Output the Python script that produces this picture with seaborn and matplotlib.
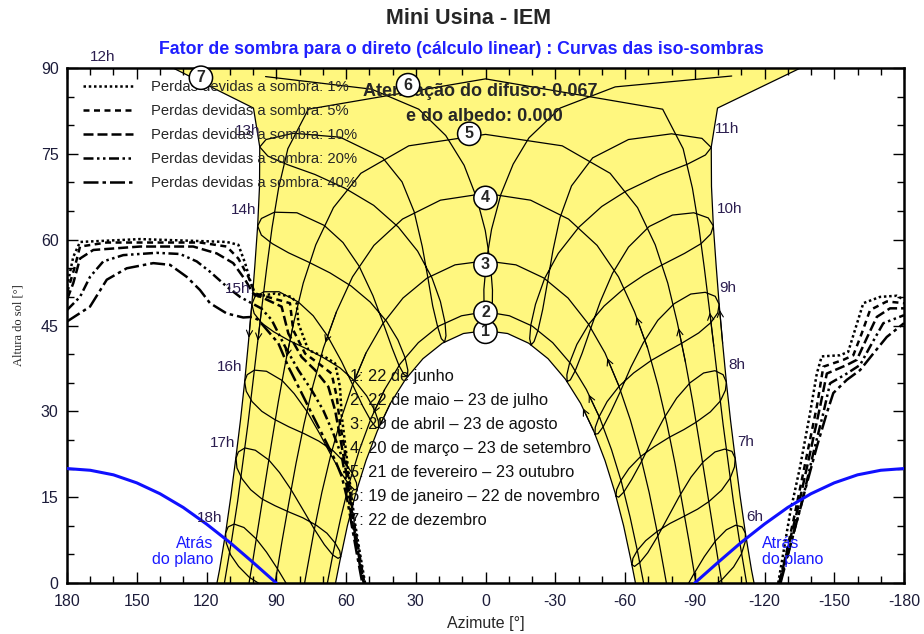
import numpy as np
import pandas as pd
import seaborn as sns
import matplotlib.pyplot as plt
from matplotlib.lines import Line2D
from matplotlib.ticker import MultipleLocator

# %% Data (azimuth [deg], positive = west; sun height [deg])
# Sun paths for the 7 dates, morning -> evening
d1_az = [-64.5, -62.6, -59.4, -55.7, -51.4, -46.5, -40.9, -34.4, -26.9, -18.6, -9.5, 0.0, 9.5, 18.6, 26.9, 34.4, 40.9, 46.5, 51.4, 55.7, 59.4, 62.6, 64.5]
d1_alt = [0.0, 3.9, 10.0, 15.8, 21.4, 26.6, 31.4, 35.6, 39.2, 41.9, 43.6, 44.1, 43.6, 41.9, 39.2, 35.6, 31.4, 26.6, 21.4, 15.8, 10.0, 3.9, 0.0]
d2_az = [-68.0, -65.5, -62.2, -58.5, -54.2, -49.2, -43.4, -36.7, -28.9, -20.1, -10.3, 0.0, 10.3, 20.1, 28.9, 36.7, 43.4, 49.2, 54.2, 58.5, 62.2, 65.5, 68.0]
d2_alt = [0.0, 5.3, 11.5, 17.6, 23.3, 28.8, 33.8, 38.3, 42.0, 44.9, 46.7, 47.4, 46.7, 44.9, 42.0, 38.3, 33.8, 28.8, 23.3, 17.6, 11.5, 5.3, 0.0]
d3_az = [-77.8, -76.7, -73.7, -70.4, -66.6, -62.3, -57.3, -51.4, -44.2, -35.5, -25.1, -13.1, 0.0, 13.1, 25.1, 35.5, 44.2, 51.4, 57.3, 62.3, 66.6, 70.4, 73.7, 76.7, 77.8]
d3_alt = [0.0, 2.5, 9.2, 15.8, 22.3, 28.5, 34.5, 40.2, 45.3, 49.8, 53.3, 55.6, 56.3, 55.6, 53.3, 49.8, 45.3, 40.2, 34.5, 28.5, 22.3, 15.8, 9.2, 2.5, 0.0]
d4_az = [-90.5, -87.6, -84.6, -81.5, -78.1, -74.2, -69.7, -64.1, -57.2, -48.0, -35.7, -19.4, 0.0, 19.4, 35.7, 48.0, 57.2, 64.1, 69.7, 74.2, 78.1, 81.5, 84.6, 87.6, 90.5]
d4_alt = [0.0, 7.1, 14.0, 20.9, 27.7, 34.5, 41.1, 47.4, 53.5, 59.0, 63.6, 66.9, 68.1, 66.9, 63.6, 59.0, 53.5, 47.4, 41.1, 34.5, 27.7, 20.9, 14.0, 7.1, 0.0]
d5_az = [-101.7, -100.0, -97.3, -94.6, -91.9, -89.1, -86.0, -82.5, -78.4, -73.0, -65.4, -53.6, -33.0, 0.0, 33.0, 53.6, 65.4, 73.0, 78.4, 82.5, 86.0, 89.1, 91.9, 94.6, 97.3, 100.0, 101.7]
d5_alt = [0.0, 4.1, 11.0, 17.9, 24.8, 31.7, 38.6, 45.5, 52.4, 59.1, 65.6, 71.6, 76.4, 78.4, 76.4, 71.6, 65.6, 59.1, 52.4, 45.5, 38.6, 31.7, 24.8, 17.9, 11.0, 4.1, 0.0]
d6_az = [-112.3, -111.8, -109.1, -106.6, -104.4, -102.2, -100.2, -98.2, -96.2, -94.1, -91.8, -89.0, -85.0, -76.2, 0.0, 76.2, 85.0, 89.0, 91.8, 94.1, 96.2, 98.2, 100.2, 102.2, 104.4, 106.6, 109.1, 111.8, 112.3]
d6_alt = [0.0, 1.2, 7.7, 14.3, 21.0, 27.7, 34.5, 41.4, 48.2, 55.1, 62.1, 69.0, 75.9, 82.8, 88.1, 82.8, 75.9, 69.0, 62.1, 55.1, 48.2, 41.4, 34.5, 27.7, 21.0, 14.3, 7.7, 1.2, 0.0]
d7_az = [-115.5, -114.4, -111.8, -109.5, -107.4, -105.4, -103.6, -102.0, -100.5, -99.2, -98.0, -97.2, -97.1, -99.8, -135.5, 134.4, 99.8, 97.1, 97.2, 98.0, 99.2, 100.5, 102.0, 103.6, 105.4, 107.4, 109.5, 111.8, 114.4, 115.5]
d7_alt = [0.0, 2.3, 8.7, 15.2, 21.8, 28.4, 35.1, 41.9, 48.7, 55.5, 62.4, 69.3, 76.2, 83.0, 90.0, 90.0, 83.0, 76.2, 69.3, 62.4, 55.5, 48.7, 41.9, 35.1, 28.4, 21.8, 15.2, 8.7, 2.3, 0.0]

# Hour loops (legal time), one point about every two weeks from 22 June
hours = [6, 7, 8, 9, 10, 11, 12, 13, 14, 15, 16, 17, 18]
loop_az = [
    [-68.4, -69.5, -71.9, -75.5, -79.6, -84.4, -89.2, -94.1, -99.0, -103.6, -107.6, -110.4, -111.8, -111.7, -110.1, -106.7, -101.5, -96.8, -91.4, -85.1, -79.7, -74.7, -71.0, -69.0],
    [-63.0, -64.1, -66.4, -69.8, -73.8, -78.5, -83.3, -88.4, -93.7, -98.7, -102.9, -106.0, -107.4, -107.1, -105.2, -101.5, -96.0, -91.2, -85.6, -79.3, -73.8, -68.9, -65.3, -63.4],
    [-56.1, -57.3, -59.5, -62.9, -66.8, -71.6, -76.6, -82.2, -88.0, -93.8, -98.7, -102.2, -103.6, -103.2, -101.0, -96.7, -90.6, -85.3, -79.2, -72.5, -66.7, -61.7, -58.2, -56.4],
    [-47.1, -48.4, -50.6, -53.9, -57.8, -62.5, -67.9, -74.1, -81.1, -88.3, -94.5, -98.8, -100.5, -99.9, -96.9, -91.7, -84.4, -78.2, -71.3, -63.7, -57.5, -52.3, -48.9, -47.2],
    [-35.1, -36.5, -38.6, -41.6, -45.0, -49.4, -54.6, -61.5, -70.4, -80.4, -89.6, -95.8, -98.0, -96.9, -92.7, -85.6, -76.0, -68.1, -59.7, -51.0, -44.4, -39.3, -36.2, -35.0],
    [-19.6, -20.9, -22.6, -24.6, -26.6, -29.0, -32.0, -37.0, -46.1, -61.5, -80.0, -93.1, -97.1, -94.6, -86.9, -74.9, -60.5, -50.0, -40.2, -31.3, -25.4, -21.5, -19.5, -19.0],
    [-1.1, -2.1, -2.9, -3.0, -2.1, 0.1, 3.8, 9.2, 17.1, 28.7, 49.0, 94.6, -105.9, -55.8, -32.1, -18.7, -11.9, -6.6, -2.6, -0.4, 0.7, 0.6, 0.0],
    [17.6, 17.0, 17.4, 19.4, 23.0, 29.2, 37.5, 48.1, 60.5, 73.4, 85.1, 93.6, 97.1, 94.4, 82.6, 62.5, 44.2, 35.9, 30.7, 27.2, 24.8, 22.7, 20.6, 19.0],
    [33.6, 33.4, 34.6, 37.7, 42.5, 49.6, 57.8, 66.9, 76.2, 84.7, 91.7, 96.4, 98.0, 96.4, 90.8, 81.1, 69.4, 61.3, 54.4, 48.4, 44.0, 40.2, 37.2, 35.0],
    [45.9, 46.1, 47.7, 51.1, 56.0, 62.6, 69.8, 77.3, 84.6, 91.1, 96.2, 99.5, 100.5, 99.2, 95.3, 88.8, 80.5, 74.1, 68.0, 61.9, 57.2, 52.9, 49.5, 47.2],
    [55.2, 55.5, 57.3, 60.9, 65.5, 71.7, 78.0, 84.6, 90.8, 96.2, 100.4, 102.9, 103.6, 102.5, 99.4, 94.2, 87.5, 82.3, 76.8, 71.2, 66.5, 62.2, 58.7, 56.4],
    [62.3, 62.7, 64.7, 68.2, 72.8, 78.6, 84.5, 90.5, 96.2, 101.0, 104.7, 106.9, 107.3, 106.3, 103.5, 99.0, 93.2, 88.6, 83.6, 78.2, 73.6, 69.3, 65.7, 63.4],
    [67.9, 68.4, 70.5, 74.1, 78.7, 84.5, 90.3, 96.2, 101.6, 106.2, 109.6, 111.5, 111.8, 110.7, 108.1, 103.9, 98.6, 94.2, 89.5, 84.2, 79.5, 75.0, 71.3, 69.0],
]
loop_alt = [
    [-9.4, -9.8, -9.4, -7.9, -5.5, -2.2, 1.3, 4.6, 7.4, 9.3, 10.1, 9.8, 8.7, 7.2, 5.1, 2.8, 0.5, -0.9, -2.1, -3.3, -4.4, -5.8, -7.2, -8.4],
    [3.2, 2.9, 3.6, 5.3, 8.0, 11.5, 15.1, 18.5, 21.2, 22.9, 23.4, 23.0, 21.8, 20.3, 18.3, 16.2, 14.2, 12.9, 11.7, 10.4, 9.0, 7.4, 5.7, 4.3],
    [15.2, 15.0, 15.9, 18.1, 21.0, 24.9, 28.7, 32.3, 35.0, 36.7, 37.1, 36.4, 35.1, 33.7, 31.8, 29.9, 28.1, 26.8, 25.5, 23.8, 22.1, 20.0, 17.9, 16.3],
    [26.0, 26.1, 27.3, 29.9, 33.3, 37.7, 42.0, 45.9, 48.8, 50.5, 50.8, 50.1, 48.7, 47.2, 45.5, 43.7, 41.9, 40.5, 38.9, 36.7, 34.4, 31.7, 29.1, 27.2],
    [35.2, 35.5, 37.1, 40.2, 44.2, 49.2, 54.1, 58.7, 62.3, 64.3, 64.7, 63.8, 62.4, 61.0, 59.3, 57.6, 55.6, 53.8, 51.5, 48.4, 45.2, 41.7, 38.5, 36.4],
    [41.6, 42.2, 44.2, 47.8, 52.4, 58.1, 63.8, 69.4, 74.3, 77.5, 78.5, 77.7, 76.1, 74.8, 73.2, 71.3, 68.5, 65.8, 62.2, 57.6, 53.2, 48.7, 45.1, 42.7],
    [44.1, 45.0, 47.3, 51.2, 55.9, 61.6, 67.3, 73.0, 78.2, 82.8, 86.3, 88.5, 88.6, 86.7, 83.0, 77.8, 73.2, 67.9, 61.8, 56.3, 51.3, 47.4, 45.0],
    [42.1, 43.2, 45.5, 49.2, 53.3, 58.0, 62.2, 66.0, 69.0, 71.4, 73.1, 74.6, 76.2, 77.5, 78.6, 77.9, 74.3, 70.1, 64.9, 58.8, 53.4, 48.4, 44.8, 42.7],
    [36.1, 37.2, 39.4, 42.5, 45.7, 49.1, 51.9, 54.2, 56.1, 57.7, 59.3, 60.8, 62.4, 63.7, 64.8, 64.7, 62.5, 59.5, 55.4, 50.2, 45.4, 41.1, 38.0, 36.4],
    [27.2, 28.3, 30.2, 32.7, 35.2, 37.6, 39.4, 41.0, 42.4, 43.9, 45.4, 47.1, 48.7, 50.0, 50.9, 50.9, 49.1, 46.7, 43.2, 38.7, 34.7, 31.0, 28.5, 27.2],
    [16.4, 17.5, 19.2, 21.2, 23.1, 24.8, 26.1, 27.3, 28.6, 30.0, 31.7, 33.5, 35.2, 36.4, 37.2, 37.0, 35.4, 33.1, 30.0, 26.0, 22.4, 19.3, 17.2, 16.3],
    [4.6, 5.6, 7.0, 8.7, 10.1, 11.4, 12.4, 13.5, 14.7, 16.3, 18.2, 20.1, 21.8, 22.9, 23.6, 23.2, 21.5, 19.3, 16.3, 12.6, 9.4, 6.7, 4.9, 4.3],
    [-8.0, -7.0, -5.8, -4.4, -3.3, -2.3, -1.4, -0.4, 1.0, 2.9, 4.9, 7.0, 8.7, 9.8, 10.3, 9.7, 7.7, 5.4, 2.5, -1.1, -4.1, -6.5, -8.0, -8.4],
]
hour_lbl_az = [-115.9, -112.0, -108.2, -104.3, -105.2, -103.9, 164.5, 102.2, 103.9, 106.5, 109.9, 113.3, 118.5]
hour_lbl_alt = [11.5, 24.6, 38.1, 51.6, 65.4, 79.3, 91.9, 79.0, 65.2, 51.4, 37.7, 24.5, 11.4]

# Iso-shading curves (west part / east part)
losses = ["1%", "5%", "10%", "20%", "40%"]
iso_w_az = [
    [180.0, 177.3, 174.4, 148.6, 111.3, 106.3, 103.4, 101.3, 99.1, 90.5, 83.4, 81.2, 80.5, 76.2, 69.0, 64.7, 62.6, 61.8, 60.4, 59.0, 57.6, 56.1, 54.0, 51.8],
    [180.0, 176.6, 174.4, 162.9, 122.8, 111.3, 106.3, 102.0, 99.1, 92.0, 84.1, 82.7, 77.6, 71.9, 66.2, 64.0, 62.6, 60.8, 59.3, 57.9, 56.4, 54.3, 52.1],
    [180.0, 177.3, 174.4, 168.7, 148.6, 125.7, 115.6, 108.5, 103.4, 99.9, 94.0, 87.7, 84.8, 79.1, 73.3, 67.6, 64.7, 62.6, 61.0, 59.6, 58.2, 56.7, 54.6, 52.4],
    [180.0, 174.4, 170.1, 164.4, 155.8, 141.5, 131.4, 124.2, 118.5, 111.3, 105.6, 100.6, 96.5, 92.0, 86.2, 80.5, 74.8, 69.8, 65.5, 61.8, 60.2, 58.8, 57.0, 54.9, 52.6],
    [180.0, 170.1, 162.9, 154.3, 142.9, 135.7, 128.5, 122.8, 118.5, 111.3, 104.2, 100.5, 97.7, 89.1, 84.8, 79.1, 74.1, 69.0, 64.7, 61.8, 59.7, 57.5, 55.3, 53.0],
]
iso_w_alt = [
    [51.8, 57.0, 59.6, 60.1, 59.6, 59.1, 55.9, 53.0, 50.0, 50.6, 50.0, 48.9, 45.4, 40.7, 39.5, 38.4, 34.3, 29.1, 24.4, 19.7, 15.1, 10.4, 5.2, 0.0],
    [50.7, 55.3, 58.8, 59.5, 59.5, 58.8, 56.7, 53.5, 50.6, 49.8, 48.9, 44.2, 40.1, 38.4, 36.6, 32.6, 27.9, 23.8, 19.4, 14.9, 10.2, 5.1, 0.0],
    [49.5, 52.4, 56.7, 58.2, 58.8, 58.8, 57.6, 55.9, 53.0, 50.6, 49.5, 48.3, 43.6, 39.5, 37.2, 34.3, 30.2, 25.6, 22.0, 18.5, 14.6, 10.0, 5.0, 0.0],
    [47.7, 50.0, 53.5, 56.2, 57.3, 57.7, 57.5, 56.2, 54.4, 51.8, 50.0, 48.9, 48.0, 46.0, 41.3, 37.2, 33.7, 30.2, 26.2, 22.1, 18.3, 14.5, 10.0, 5.0, 0.0],
    [45.7, 48.3, 53.0, 55.0, 55.9, 55.6, 53.5, 51.2, 48.9, 47.1, 46.4, 46.5, 46.0, 41.9, 37.8, 33.2, 29.1, 25.0, 21.5, 18.6, 15.1, 10.0, 5.0, 0.0],
]
iso_e_az = [
    [-125.9, -131.0, -135.3, -139.6, -142.5, -144.6, -152.5, -156.0, -158.9, -162.5, -169.7, -176.9, -180.0],
    [-126.6, -133.1, -138.1, -142.5, -145.3, -153.9, -158.2, -161.8, -165.4, -172.6, -180.0],
    [-126.3, -134.5, -139.6, -143.9, -146.8, -155.4, -159.7, -164.0, -168.3, -174.0, -180.0],
    [-126.6, -136.0, -141.0, -145.3, -148.2, -155.4, -161.1, -165.4, -171.1, -180.0],
    [-126.9, -136.7, -142.5, -146.8, -149.6, -155.4, -161.1, -166.8, -172.6, -180.0],
]
iso_e_alt = [
    [0.0, 12.2, 20.3, 29.7, 36.6, 39.6, 39.8, 40.4, 44.2, 48.9, 50.0, 50.2, 49.5],
    [0.0, 12.2, 22.1, 30.8, 37.8, 39.0, 39.8, 43.6, 47.7, 49.2, 48.9],
    [0.0, 13.3, 22.7, 30.8, 36.6, 38.1, 39.0, 42.8, 46.5, 48.0, 48.0],
    [0.0, 13.9, 22.7, 29.7, 34.9, 36.6, 38.1, 41.3, 45.4, 46.8],
    [0.0, 15.1, 23.8, 29.7, 33.2, 35.5, 37.2, 40.1, 43.0, 45.4],
]
iso_dashes = [(1, 1.1), (2.4, 1.8), (4, 1.6), (4, 1.4, 1, 1.4, 1, 1.4), (6, 1.6, 1.4, 1.6)]

# "behind the plane" limit
behind_w_az = [180, 170, 160, 150, 140, 130, 120, 110, 100, 90]
behind_e_az = [-90, -100, -110, -120, -130, -140, -150, -160, -170, -180]
behind_w_alt = [20.0, 19.7, 18.9, 17.5, 15.6, 13.2, 10.3, 7.1, 3.6, 0.0]
behind_e_alt = [0.0, 3.6, 7.1, 10.3, 13.2, 15.6, 17.5, 18.9, 19.7, 20.0]

date_labels = ["1: 22 de junho", "2: 22 de maio \u2013 23 de julho", "3: 20 de abril \u2013 23 de agosto",
               "4: 20 de mar\u00e7o \u2013 23 de setembro", "5: 21 de fevereiro \u2013 23 outubro",
               "6: 19 de janeiro \u2013 22 de novembro", "7: 22 de dezembro"]
num_az = [0.0, 0.0, 0.0, 0.0, 7.0, 33.3, 122.4]
num_alt = [43.9, 47.2, 55.6, 67.3, 78.5, 87.0, 88.3]

# %% Build the long tables for seaborn
curves_az = [d1_az, d2_az, d3_az, d4_az, d5_az, d6_az, d7_az]
curves_alt = [d1_alt, d2_alt, d3_alt, d4_alt, d5_alt, d6_alt, d7_alt]


def split_rows(name, az, alt):
    # break a path where it wraps around +-180
    rows, seg = [], 0
    for k in range(len(az)):
        if k > 0 and abs(az[k] - az[k - 1]) > 180:
            seg += 1
        rows.append((f"{name}_{seg}", az[k], alt[k]))
    return rows


rows = []
for i in range(7):
    rows += split_rows(f"d{i}", curves_az[i], curves_alt[i])
for i, h in enumerate(hours):
    rows += split_rows(f"h{h}", loop_az[i] + loop_az[i][:1], loop_alt[i] + loop_alt[i][:1])
grid_df = pd.DataFrame(rows, columns=["unit", "az", "alt"])

iso_rows = []
for i, lab in enumerate(losses):
    iso_rows += [(lab, "w", a, b) for a, b in zip(iso_w_az[i], iso_w_alt[i])]
    iso_rows += [(lab, "e", a, b) for a, b in zip(iso_e_az[i], iso_e_alt[i])]
iso_df = pd.DataFrame(iso_rows, columns=["loss", "side", "az", "alt"])
iso_df["unit"] = iso_df["loss"] + iso_df["side"]

# %% Plot
sns.set_theme(style="ticks")
plt.rcParams['font.family'] = ['Liberation Sans', 'DejaVu Sans']
plt.rcParams['axes.unicode_minus'] = False
fig = plt.figure(figsize=(9.24, 6.34), dpi=100)
ax = fig.add_axes([67 / 924, 51 / 634, 837 / 924, 515 / 634])

ax.fill(d7_az + d1_az[::-1], d7_alt + d1_alt[::-1], color="#FFF77F", zorder=0, lw=0)

sns.lineplot(data=grid_df, x="az", y="alt", units="unit", estimator=None, sort=False,
             color="black", linewidth=0.9, ax=ax, zorder=2)

# direction arrows on the date curves
for i in range(7):
    az, alt = curves_az[i], curves_alt[i]
    n = len(az)
    for k in (n // 4, n - 1 - n // 4 - 1):
        ax.annotate("", xy=(az[k + 1], alt[k + 1]), xytext=(az[k], alt[k]),
                    arrowprops=dict(arrowstyle="->", lw=0.8, color="black", mutation_scale=11,
                                    shrinkA=0, shrinkB=4), zorder=2)

sns.lineplot(data=iso_df, x="az", y="alt", units="unit", style="loss", dashes=dict(zip(losses, iso_dashes)),
             estimator=None, sort=False, color="black", linewidth=1.8, legend=False, ax=ax, zorder=3)

sns.lineplot(x=behind_w_az, y=behind_w_alt, sort=False, color="#1010ff", linewidth=2.2, ax=ax, zorder=3)
sns.lineplot(x=behind_e_az, y=behind_e_alt, sort=False, color="#1010ff", linewidth=2.2, ax=ax, zorder=3)
ax.text(117.2, 5.5, "Atrás\ndo plano", color="#1a1aff", fontsize=11.5, ha="right", va="center", linespacing=1.05)
ax.text(-118.8, 5.5, "Atrás\ndo plano", color="#1a1aff", fontsize=11.5, ha="left", va="center", linespacing=1.05)

# hour labels
for h, a, b in zip(hours, hour_lbl_az, hour_lbl_alt):
    ax.text(a, b, f"{h}h", color="#2b1d4f", fontsize=11, ha="center", va="center", clip_on=False, zorder=5)

# curve numbers
for i in range(7):
    ax.text(num_az[i], num_alt[i], str(i + 1), fontsize=11.5, fontweight="bold", ha="center", va="center",
            zorder=6, bbox=dict(boxstyle="circle,pad=0.26", fc="white", ec="black", lw=1.1))

# date list
for i, lab in enumerate(date_labels):
    ax.text(58.3, 36.0 - 4.17 * i, lab, fontsize=11.8, ha="left", va="center", color="#111111", zorder=5)

ax.text(2.4, 85.9, "Atenuação do difuso: 0.067", fontsize=13, fontweight="bold", ha="center", va="center", zorder=5)
ax.text(0.5, 81.5, "e do albedo: 0.000", fontsize=13, fontweight="bold", ha="center", va="center", zorder=5)

handles = [Line2D([], [], color="black", lw=1.8, dashes=d) for d in iso_dashes]
ax.legend(handles, [f"Perdas devidas a sombra: {l}" for l in losses], loc="upper left",
          bbox_to_anchor=(0.019, 0.976), frameon=False, fontsize=10.6, handlelength=3.4,
          handletextpad=1.25, labelspacing=0.68, borderpad=0, borderaxespad=0)

ax.set_xlim(180, -180)
ax.set_ylim(0, 90)
ax.set_xticks(np.arange(180, -181, -30))
ax.set_yticks(np.arange(0, 91, 15))
ax.xaxis.set_minor_locator(MultipleLocator(10))
ax.yaxis.set_minor_locator(MultipleLocator(5))
ax.tick_params(which="both", direction="in", top=True, right=True, width=1, colors="black",
               labelsize=11.5, labelcolor="#1c1c3a")
ax.tick_params(which="major", length=8, pad=6)
ax.tick_params(axis="x", which="major", pad=8)
ax.tick_params(which="minor", length=5)
for s in ax.spines.values():
    s.set_linewidth(1.8)
    s.set_color("black")

ax.set_xlabel("Azimute [°]", fontsize=11.5, labelpad=5)
ax.set_ylabel("Altura do sol [°]", fontsize=9, family="Liberation Serif", labelpad=12)

fig.text(0.507, 1 - 18 / 634, "Mini Usina - IEM", ha="center", va="center", fontsize=15.5, fontweight="bold")
fig.text(0.499, 1 - 50 / 634, "Fator de sombra para o direto (cálculo linear) : Curvas das iso-sombras",
         ha="center", va="center", fontsize=12.8, fontweight="bold", color="#2020ff")

fig.savefig("out.png")
